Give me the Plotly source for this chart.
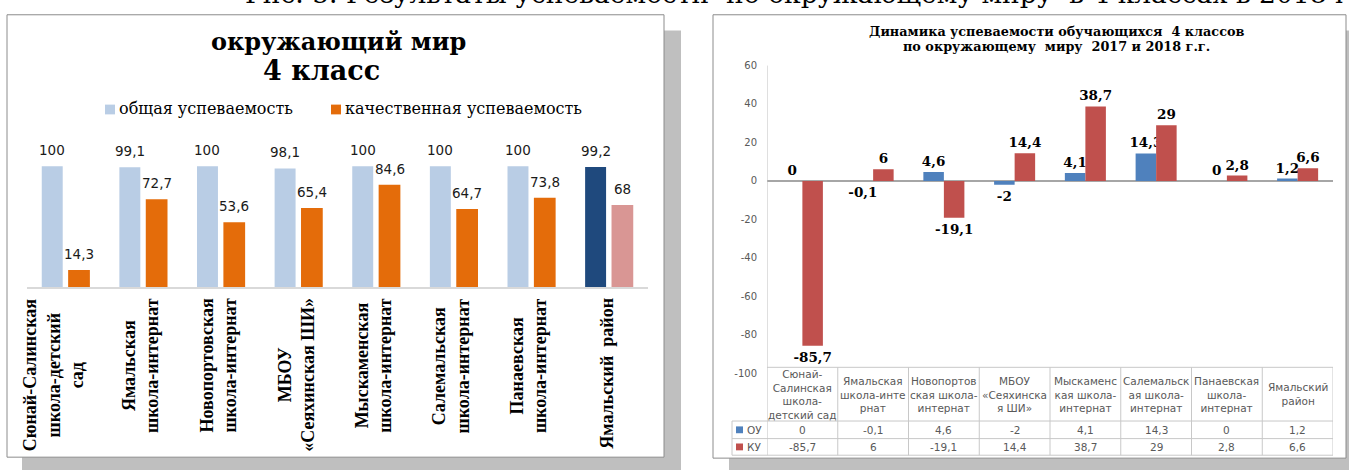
import plotly.graph_objects as go

W, H = 1349, 470

def X(p):
    return p / W

def Y(p):
    return 1 - p / H

# ---------------- data ----------------
left_categories = [
    "Сюнай-Салинская<br>школа-детский<br>сад",
    "Ямальская<br>школа-интернат",
    "Новопортовская<br>школа-интернат",
    "МБОУ<br>«Сеяхинская ШИ»",
    "Мыскаменская<br>школа-интернат",
    "Салемальская<br>школа-интернат",
    "Панаевская<br>школа-интернат",
    "Ямальский  район",
]
obshaya = [100, 99.1, 100, 98.1, 100, 100, 100, 99.2]
kachestv = [14.3, 72.7, 53.6, 65.4, 84.6, 64.7, 73.8, 68]

right_categories = [
    "Сюнай-<br>Салинская<br>школа-<br>детский сад",
    "Ямальская<br>школа-инте<br>рнат",
    "Новопортов<br>ская школа-<br>интернат",
    "МБОУ<br>«Сеяхинска<br>я ШИ»",
    "Мыскаменс<br>кая школа-<br>интернат",
    "Салемальск<br>ая школа-<br>интернат",
    "Панаевская<br>школа-<br>интернат",
    "Ямальский<br>район",
]
ou = [0, -0.1, 4.6, -2, 4.1, 14.3, 0, 1.2]
ku = [-85.7, 6, -19.1, 14.4, 38.7, 29, 2.8, 6.6]
right_ticks = [60, 40, 20, 0, -20, -40, -60, -80, -100]


def fmt(v):
    return f"{v:g}".replace(".", ",")


n = len(obshaya)
xs = list(range(n))

light_blue, orange = "#B9CDE5", "#E46C0A"
dark_blue, pink = "#1F497D", "#D99694"
blue_r, red_r = "#4F81BD", "#C0504D"

L_W1, L_OFF1 = 0.27, -0.31
L_W2, L_OFF2 = 0.28, 0.03

fig = go.Figure()

# ---------------- left chart ----------------
fig.add_trace(go.Bar(
    x=xs, y=obshaya, name="общая успеваемость",
    marker=dict(color=[light_blue] * (n - 1) + [dark_blue], line=dict(width=0)),
    width=L_W1, offset=L_OFF1,
    xaxis="x", yaxis="y", showlegend=False,
))
fig.add_trace(go.Bar(
    x=xs, y=kachestv, name="качественная успеваемость",
    marker=dict(color=[orange] * (n - 1) + [pink], line=dict(width=0)),
    width=L_W2, offset=L_OFF2,
    xaxis="x", yaxis="y", showlegend=False,
))

# ---------------- right chart ----------------
fig.add_trace(go.Bar(
    x=xs, y=ou, name="ОУ",
    marker=dict(color=blue_r, line=dict(width=0)),
    width=0.29, offset=-0.29,
    text=[fmt(v) for v in ou], textposition="outside", constraintext="none",
    textfont=dict(family="DejaVu Serif", size=13.5, color="#000000", weight="bold"),
    cliponaxis=False, xaxis="x2", yaxis="y2", showlegend=False,
))
fig.add_trace(go.Bar(
    x=xs, y=ku, name="КУ",
    marker=dict(color=red_r, line=dict(width=0)),
    width=0.29, offset=0.0,
    text=[fmt(v) for v in ku], textposition="outside", constraintext="none",
    textfont=dict(family="DejaVu Serif", size=13.5, color="#000000", weight="bold"),
    cliponaxis=False, xaxis="x2", yaxis="y2", showlegend=False,
))

shapes = []
annotations = []

# left data labels (placed at each bar's top through the axes)
lfont = dict(family="DejaVu Sans", size=13.5, color="#1a1a1a")
for vals, w, off in [(obshaya, L_W1, L_OFF1), (kachestv, L_W2, L_OFF2)]:
    for i, v in enumerate(vals):
        annotations.append(dict(text=fmt(v), xref="x", yref="y", x=i + off + w / 2, y=v,
                                xanchor="center", yanchor="bottom", yshift=6, showarrow=False,
                                font=lfont))

# frames with shadows
shapes += [
    dict(type="rect", xref="paper", yref="paper", x0=X(22), x1=X(681), y0=Y(480), y1=Y(26),
         fillcolor="#BFBFBF", line=dict(width=0), layer="below"),
    dict(type="rect", xref="paper", yref="paper", x0=X(7), x1=X(664), y0=Y(463), y1=Y(10),
         fillcolor="white", line=dict(color="#8C8C8C", width=1), layer="below"),
    dict(type="rect", xref="paper", yref="paper", x0=X(729), x1=X(1365), y0=Y(482), y1=Y(26),
         fillcolor="#BFBFBF", line=dict(width=0), layer="below"),
    dict(type="rect", xref="paper", yref="paper", x0=X(713), x1=X(1346), y0=Y(464), y1=Y(10),
         fillcolor="white", line=dict(color="#8C8C8C", width=1), layer="below"),
]

# caption at the very top (cut off by the page edge, as in the reference)
annotations.append(dict(
    text="Рис. 5. Результаты успеваемости  по окружающему миру  в 4 классах в 2018 году.",
    xref="paper", yref="paper", x=X(243), y=1, xanchor="left", yanchor="middle", yshift=12,
    showarrow=False, font=dict(family="DejaVu Serif", size=26.5, color="#000000"),
))

# left title
annotations.append(dict(text="<b>окружающий мир</b>", xref="paper", yref="paper",
                        x=X(338), y=Y(37), xanchor="center", yanchor="middle", showarrow=False,
                        font=dict(family="DejaVu Serif", size=24, color="#000000")))
annotations.append(dict(text="<b>4 класс</b>", xref="paper", yref="paper",
                        x=X(321), y=Y(67), xanchor="center", yanchor="middle", showarrow=False,
                        font=dict(family="DejaVu Serif", size=27, color="#000000")))

# left legend
for sx, col, label in [(105, light_blue, "общая успеваемость"), (331, orange, "качественная успеваемость")]:
    shapes.append(dict(type="rect", xref="paper", yref="paper", x0=X(sx), x1=X(sx + 10),
                       y0=Y(112), y1=Y(102), fillcolor=col, line=dict(width=0)))
    annotations.append(dict(text=label, xref="paper", yref="paper", x=X(sx + 12), y=Y(106),
                            xanchor="left", yanchor="middle", showarrow=False,
                            font=dict(family="DejaVu Serif", size=16, color="#000000")))

# left category labels (rotated)
for i, lab in enumerate(left_categories):
    annotations.append(dict(text="<b>" + lab + "</b>", xref="x", yref="paper", x=i, y=Y(298),
                            xanchor="center", yanchor="top", textangle=-90, align="center",
                            xshift=-12 if i == 0 else -3,
                            showarrow=False,
                            font=dict(family="Liberation Serif", size=18, color="#000000")))

# right title
annotations.append(dict(text="<b>Динамика успеваемости обучающихся  4 классов</b>", xref="paper",
                        yref="paper", x=X(1056), y=Y(27), xanchor="center", yanchor="middle",
                        showarrow=False, font=dict(family="DejaVu Serif", size=12.8, color="#000000")))
annotations.append(dict(text="<b>по окружающему  миру  2017 и 2018 г.г.</b>", xref="paper",
                        yref="paper", x=X(1056), y=Y(42), xanchor="center", yanchor="middle",
                        showarrow=False, font=dict(family="DejaVu Serif", size=12.8, color="#000000")))

# right data table
grid = "#C8C8C8"
t_top, t_h, t_r1, t_bot = 371, 426, 444, 461
shapes.append(dict(type="line", xref="x2", yref="paper", x0=-0.5, x1=-0.5, y0=Y(t_bot), y1=Y(62),
                   line=dict(color="#BFBFBF", width=1)))
shapes.append(dict(type="line", xref="x2", yref="paper", x0=-0.5, x1=n - 0.5, y0=Y(t_top), y1=Y(t_top),
                   line=dict(color=grid, width=1)))
for yy in (t_h, t_r1, t_bot):
    shapes.append(dict(type="line", xref="paper", yref="paper", x0=X(732), x1=X(767), y0=Y(yy), y1=Y(yy),
                       line=dict(color=grid, width=1)))
    shapes.append(dict(type="line", xref="x2", yref="paper", x0=-0.5, x1=n - 0.5, y0=Y(yy), y1=Y(yy),
                       line=dict(color=grid, width=1)))
shapes.append(dict(type="line", xref="paper", yref="paper", x0=X(732), x1=X(732), y0=Y(t_bot), y1=Y(t_h),
                   line=dict(color=grid, width=1)))
for k in range(1, n + 1):
    shapes.append(dict(type="line", xref="x2", yref="paper", x0=k - 0.5, x1=k - 0.5,
                       y0=Y(t_bot), y1=Y(t_top), line=dict(color=grid, width=1)))

tfont = dict(family="DejaVu Sans", size=10.5, color="#595959")
for i in range(n):
    annotations.append(dict(text=right_categories[i], xref="x2", yref="paper", x=i, y=Y((t_top + t_h) / 2),
                            xanchor="center", yanchor="middle", align="center", showarrow=False,
                            font=tfont))
    annotations.append(dict(text=fmt(ou[i]), xref="x2", yref="paper", x=i, y=Y((t_h + t_r1) / 2),
                            xanchor="center", yanchor="middle", showarrow=False, font=tfont))
    annotations.append(dict(text=fmt(ku[i]), xref="x2", yref="paper", x=i, y=Y((t_r1 + t_bot) / 2),
                            xanchor="center", yanchor="middle", showarrow=False, font=tfont))

for yy, col, lab in [((t_h + t_r1) / 2, blue_r, "ОУ"), ((t_r1 + t_bot) / 2, red_r, "КУ")]:
    shapes.append(dict(type="rect", xref="paper", yref="paper", x0=X(736), x1=X(743),
                       y0=Y(yy + 3.5), y1=Y(yy - 3.5), fillcolor=col, line=dict(width=0)))
    annotations.append(dict(text=lab, xref="paper", yref="paper", x=X(745), y=Y(yy),
                            xanchor="left", yanchor="middle", showarrow=False, font=tfont))

fig.update_layout(
    width=W, height=H,
    margin=dict(l=0, r=0, t=0, b=0),
    paper_bgcolor="white", plot_bgcolor="rgba(0,0,0,0)",
    barmode="group",
    showlegend=False,
    shapes=shapes,
    annotations=annotations,
    xaxis=dict(domain=[X(27), X(648)], range=[-0.5, n - 0.5], showticklabels=False,
               showgrid=False, zeroline=False, showline=True, linecolor="#D9D9D9", linewidth=2,
               ticks="", fixedrange=True, anchor="y"),
    yaxis=dict(domain=[Y(289), Y(140.2)], range=[0, 120], showticklabels=False, showgrid=False,
               zeroline=False, showline=False, ticks="", fixedrange=True, anchor="x"),
    xaxis2=dict(domain=[X(767), X(1333)], range=[-0.5, n - 0.5], showticklabels=False,
                showgrid=False, zeroline=False, showline=False, ticks="", fixedrange=True, anchor="y2"),
    yaxis2=dict(domain=[Y(377), Y(62)], range=[-100, 60], tickvals=right_ticks,
                ticktext=[str(t) for t in right_ticks], showgrid=False, zeroline=True,
                zerolinecolor="#A6A6A6", zerolinewidth=2, showline=False, ticks="",
                ticklabelstandoff=9,
                tickfont=dict(family="DejaVu Sans", size=10, color="#595959"),
                fixedrange=True, anchor="x2"),
)

fig.write_html(
    "out.html",
    config={"displayModeBar": False, "staticPlot": True},
    post_script="document.body.style.margin='0';document.body.style.overflow='hidden';",
)
